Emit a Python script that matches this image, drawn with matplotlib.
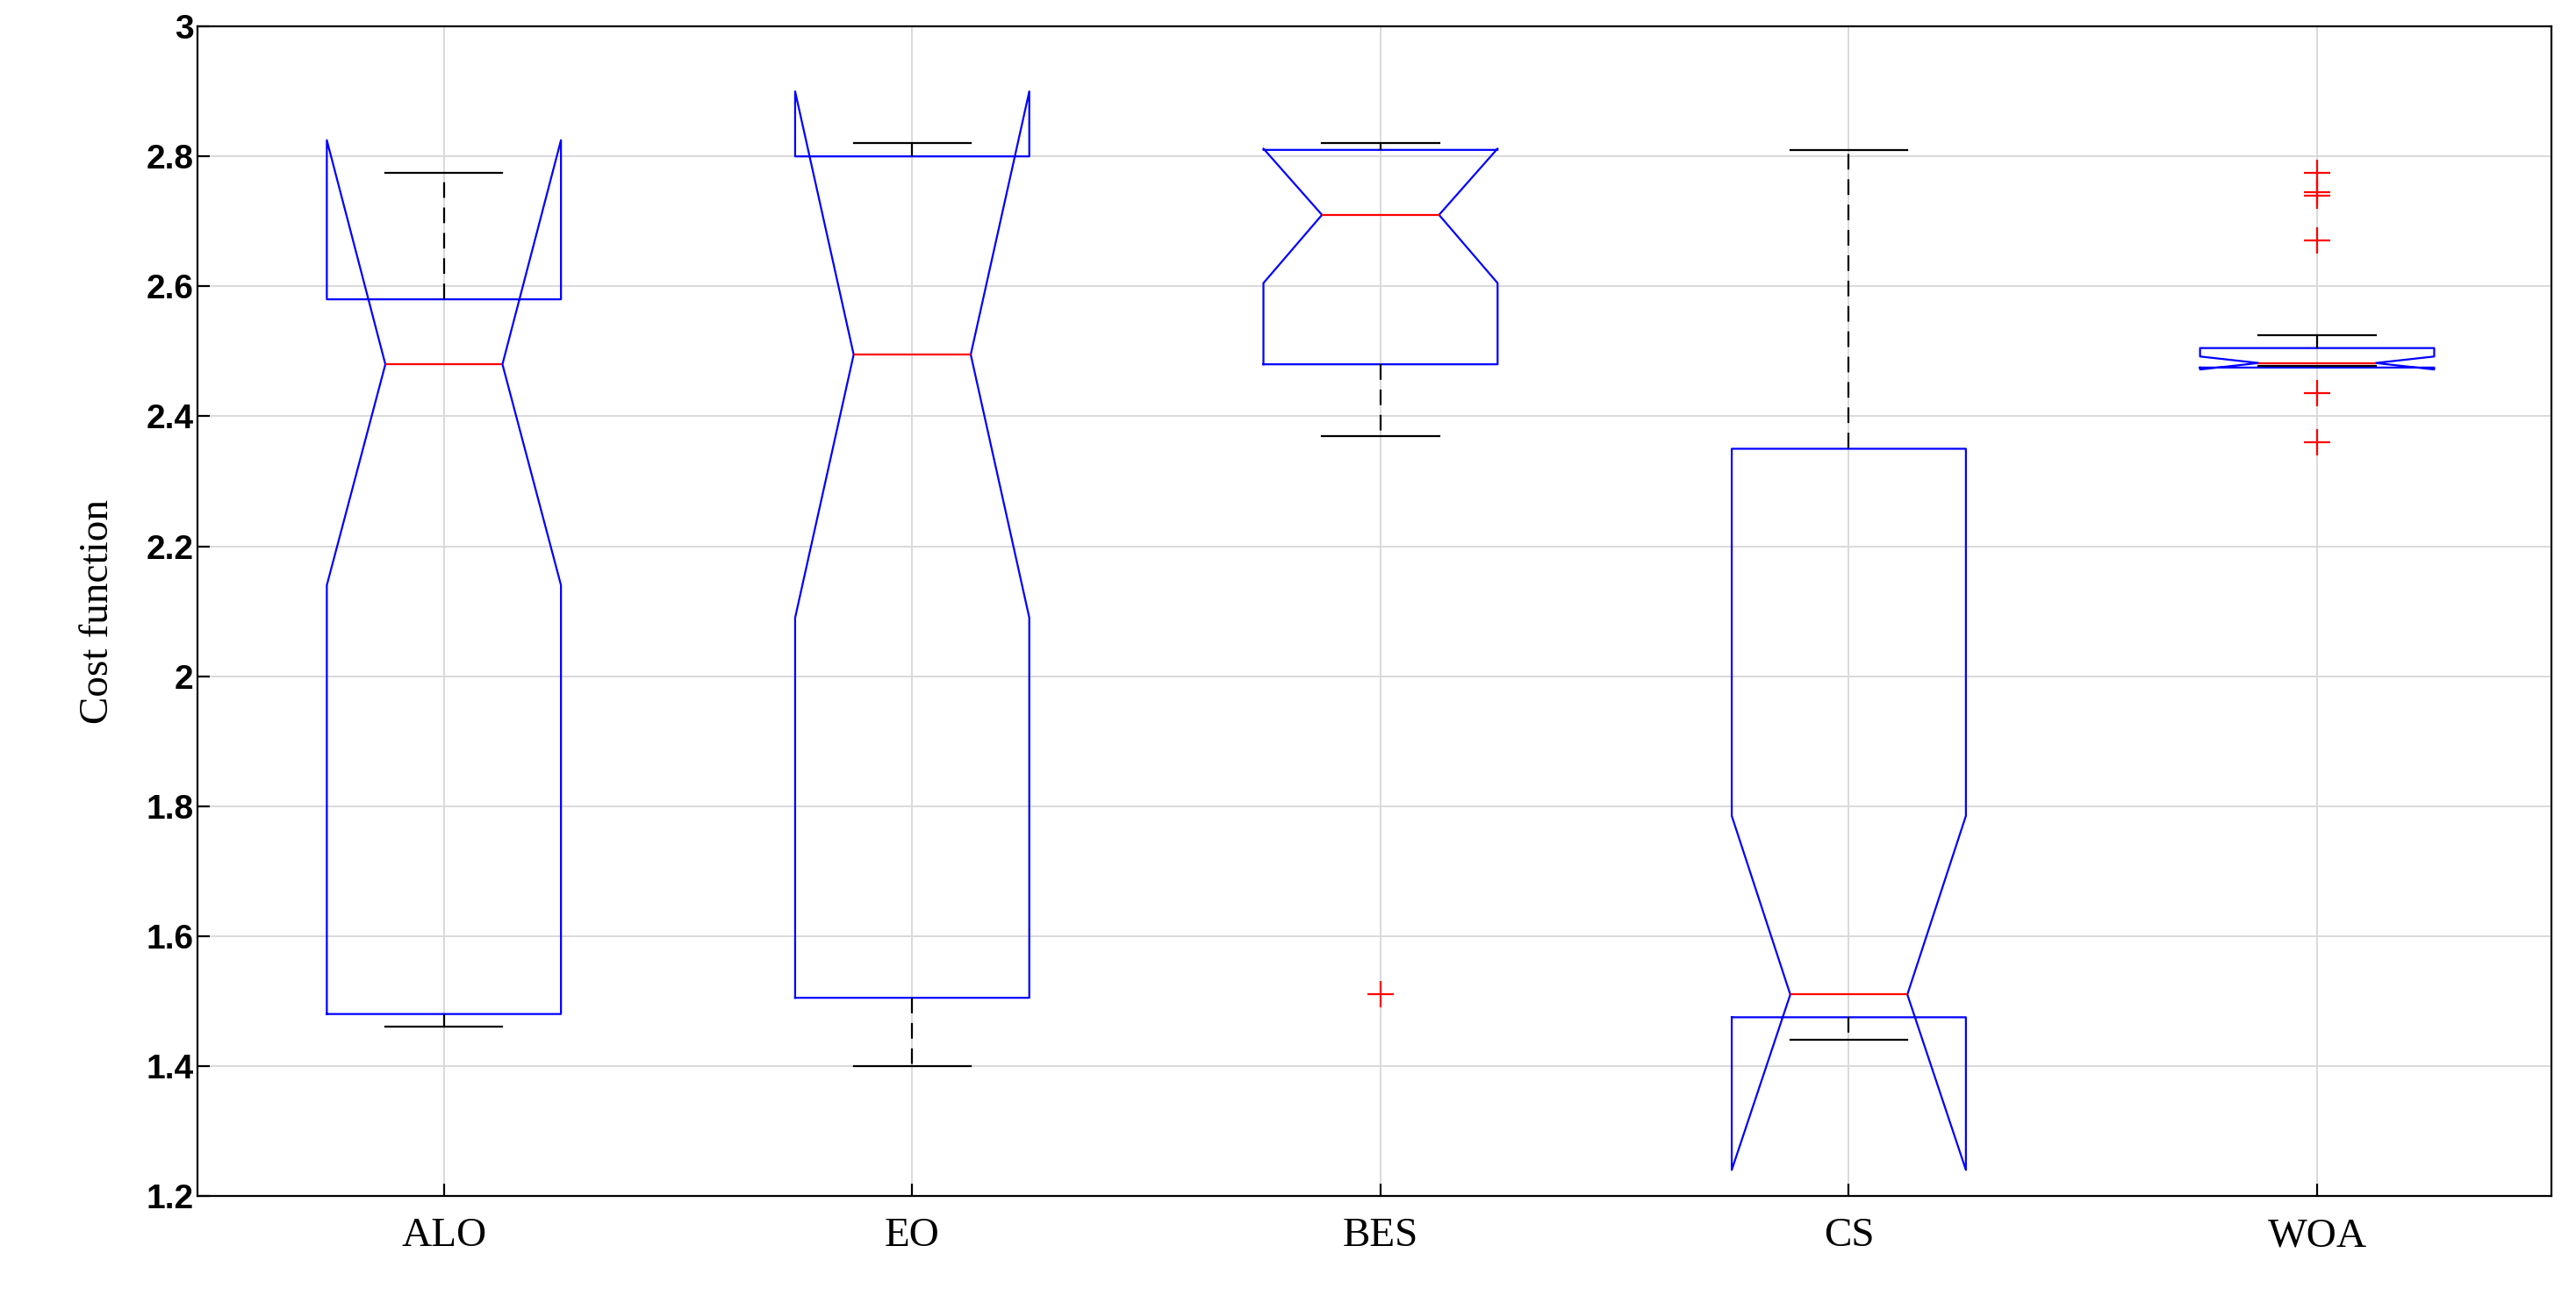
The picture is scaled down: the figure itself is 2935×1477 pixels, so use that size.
import matplotlib.pyplot as plt

names = ["ALO", "EO", "BES", "CS", "WOA"]
q1 = [1.48, 1.505, 2.48, 1.475, 2.475]
q3 = [2.58, 2.80, 2.81, 2.35, 2.505]
med = [2.48, 2.495, 2.71, 1.51, 2.482]
cilo = [2.14, 2.09, 2.605, 1.24, 2.472]
cihi = [2.825, 2.90, 2.812, 1.785, 2.492]
whislo = [1.46, 1.40, 2.37, 1.44, 2.478]
whishi = [2.775, 2.82, 2.82, 2.81, 2.525]
fliers = [[], [], [1.51], [], [2.775, 2.745, 2.74, 2.67, 2.435, 2.36]]

stats = []
for i in range(len(names)):
    stats.append(dict(label=names[i], q1=q1[i], q3=q3[i], med=med[i],
                      cilo=cilo[i], cihi=cihi[i], whislo=whislo[i],
                      whishi=whishi[i], fliers=fliers[i]))

fig = plt.figure(figsize=(29.35, 14.77), dpi=100)
ax = fig.add_axes([0.0767, 0.0772, 0.9137, 0.9024])

ax.bxp(stats, shownotches=True, widths=0.5, showfliers=True,
       boxprops=dict(color="blue", linewidth=1.6),
       medianprops=dict(color="red", linewidth=1.6),
       whiskerprops=dict(color="black", linestyle=(0, (8, 5)), linewidth=1.6),
       capprops=dict(color="black", linewidth=1.6),
       flierprops=dict(marker="+", markeredgecolor="red", markersize=22,
                       markeredgewidth=1.6, linestyle="none"))

ax.set_xlim(0.474, 5.5)
ax.set_ylim(1.2, 3.0)
ax.set_yticks([1.2, 1.4, 1.6, 1.8, 2.0, 2.2, 2.4, 2.6, 2.8, 3.0])
ax.set_yticklabels(["1.2", "1.4", "1.6", "1.8", "2", "2.2", "2.4", "2.6", "2.8", "3"])
ax.grid(True, color="#d9d9d9", linewidth=1.4)
ax.set_axisbelow(True)
for s in ax.spines.values():
    s.set_linewidth(1.6)
ax.tick_params(axis="y", labelsize=28, direction="in", length=10, width=1.6)
ax.tick_params(axis="x", direction="in", length=10, width=1.6, pad=18)
for t in ax.get_yticklabels():
    t.set_fontweight("bold")
    t.set_family("Liberation Sans")
for t in ax.get_xticklabels():
    t.set_family("Liberation Serif")
    t.set_fontsize(34)
ax.set_ylabel("Cost function", family="Liberation Serif", fontsize=34, labelpad=24)

fig.savefig("out.png")
